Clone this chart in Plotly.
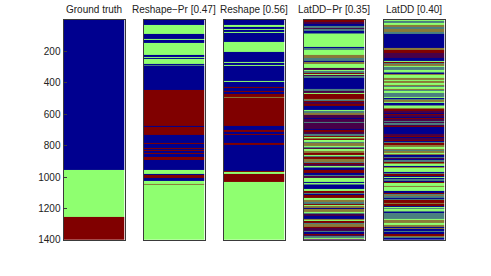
import plotly.graph_objects as go

N_FRAMES = 1400

titles = ["Ground truth", "Reshape\u2212Pr [0.47]", "Reshape [0.56]",
          "LatDD\u2212Pr [0.35]", "LatDD [0.40]"]

y_ticks = [200, 400, 600, 800, 1000, 1200, 1400]

# stripe codes -> colour as seen in the picture
# B blue, G green, R red; T/P/O/W are thin mixed stripes (blue+green, blue+red, red+green, light)
code_order = ["B", "G", "R", "T", "P", "O", "W"]
code_colors = ["#00008F", "#8FFF70", "#800000", "#4A8080", "#480048", "#8A7A38", "#E6FFD8"]

# (start frame, stripe code) runs for each panel
ground_truth_runs = [(0, "B"), (955, "G"), (1252, "R")]

reshape_pr_runs = [
    (0, "B"), (31, "G"), (90, "B"), (122, "G"), (126, "B"), (144, "G"), (223, "B"), (235, "G"),
    (240, "B"), (248, "G"), (277, "B"), (285, "T"), (290, "B"), (425, "R"), (429, "B"), (445, "R"),
    (677, "B"), (681, "R"), (731, "B"), (781, "R"), (792, "B"), (800, "R"), (805, "B"), (812, "R"),
    (818, "B"), (830, "R"), (836, "B"), (845, "R"), (850, "B"), (875, "R"), (890, "B"), (896, "R"),
    (900, "B"), (953, "G"), (982, "B"), (986, "R"), (1006, "B"), (1022, "G"), (1044, "O"), (1048, "G"),
]

reshape_runs = [
    (0, "B"), (33, "G"), (44, "B"), (58, "G"), (64, "B"), (75, "G"), (84, "B"), (140, "G"),
    (202, "B"), (266, "G"), (272, "B"), (286, "G"), (292, "B"), (390, "G"), (396, "B"), (428, "R"),
    (433, "B"), (455, "R"), (460, "B"), (468, "R"), (492, "O"), (497, "R"), (520, "B"), (525, "R"),
    (677, "B"), (698, "R"), (715, "B"), (723, "R"), (729, "B"), (781, "R"), (795, "B"), (958, "R"),
    (966, "G"), (983, "R"), (1033, "G"),
]

latdd_pr_runs = [
    (0, "R"), (12, "P"), (25, "B"), (37, "T"), (50, "P"), (58, "T"), (71, "B"), (83, "T"),
    (92, "G"), (175, "B"), (181, "T"), (191, "G"), (208, "B"), (212, "G"), (225, "O"), (241, "G"),
    (245, "T"), (262, "B"), (270, "O"), (279, "G"), (304, "P"), (316, "B"), (320, "G"), (324, "T"),
    (337, "R"), (345, "G"), (349, "P"), (354, "T"), (366, "G"), (370, "B"), (437, "G"), (441, "T"),
    (449, "P"), (466, "G"), (474, "R"), (503, "O"), (508, "T"), (516, "R"), (520, "P"), (537, "R"),
    (549, "B"), (574, "G"), (582, "T"), (591, "O"), (607, "P"), (624, "B"), (628, "P"), (649, "T"),
    (657, "P"), (695, "B"), (703, "R"), (711, "P"), (728, "T"), (736, "R"), (745, "G"), (749, "O"),
    (757, "R"), (765, "G"), (774, "T"), (782, "O"), (799, "G"), (807, "T"), (815, "P"), (824, "G"),
    (832, "O"), (849, "R"), (857, "G"), (865, "T"), (874, "R"), (882, "O"), (903, "T"), (911, "R"),
    (919, "P"), (928, "G"), (936, "T"), (944, "B"), (957, "R"), (973, "B"), (986, "T"), (994, "P"),
    (1007, "G"), (1032, "B"), (1036, "W"), (1040, "G"), (1044, "T"), (1052, "B"), (1077, "G"),
    (1090, "R"), (1098, "T"), (1107, "B"), (1115, "R"), (1136, "G"), (1144, "O"), (1161, "T"),
    (1169, "R"), (1177, "G"), (1186, "O"), (1198, "B"), (1206, "O"), (1219, "G"), (1227, "T"),
    (1236, "P"), (1248, "B"), (1265, "O"), (1273, "G"), (1281, "R"), (1290, "T"), (1298, "O"),
    (1315, "R"), (1327, "P"), (1340, "T"), (1348, "B"), (1360, "R"), (1369, "P"), (1377, "T"),
    (1385, "G"), (1394, "P"),
]

latdd_runs = [
    (0, "G"), (8, "T"), (21, "G"), (29, "O"), (42, "T"), (58, "O"), (79, "T"), (87, "B"),
    (179, "O"), (191, "R"), (212, "P"), (241, "B"), (258, "G"), (266, "R"), (275, "T"), (283, "O"),
    (291, "G"), (300, "T"), (316, "R"), (320, "G"), (329, "T"), (337, "B"), (341, "O"), (349, "G"),
    (366, "O"), (383, "G"), (391, "O"), (399, "T"), (404, "G"), (412, "O"), (420, "T"), (428, "G"),
    (437, "O"), (445, "T"), (453, "G"), (462, "T"), (487, "G"), (495, "B"), (503, "T"), (512, "O"),
    (520, "G"), (528, "B"), (541, "T"), (549, "G"), (557, "O"), (566, "R"), (578, "P"), (591, "B"),
    (599, "R"), (607, "P"), (616, "B"), (624, "R"), (632, "P"), (641, "T"), (649, "P"), (657, "T"),
    (666, "P"), (674, "R"), (682, "B"), (728, "P"), (736, "R"), (745, "B"), (753, "P"), (761, "R"),
    (770, "B"), (778, "T"), (786, "R"), (795, "O"), (811, "G"), (820, "O"), (828, "T"), (836, "O"),
    (845, "G"), (853, "O"), (861, "B"), (869, "T"), (878, "P"), (886, "B"), (894, "T"), (903, "R"),
    (911, "O"), (919, "G"), (928, "B"), (936, "O"), (944, "G"), (965, "B"), (973, "T"), (982, "R"),
    (990, "B"), (998, "G"), (1007, "B"), (1015, "T"), (1023, "B"), (1032, "R"), (1040, "G"),
    (1057, "O"), (1065, "G"), (1090, "B"), (1098, "R"), (1107, "T"), (1115, "O"), (1123, "T"),
    (1132, "B"), (1140, "T"), (1144, "R"), (1165, "O"), (1173, "R"), (1181, "B"), (1190, "G"),
    (1198, "T"), (1206, "G"), (1215, "T"), (1223, "B"), (1231, "T"), (1265, "G"), (1273, "O"),
    (1294, "G"), (1302, "O"), (1315, "B"), (1323, "O"), (1331, "B"), (1340, "T"), (1348, "B"),
    (1365, "R"), (1373, "O"), (1381, "T"), (1390, "B"), (1398, "G"),
]

panels = [ground_truth_runs, reshape_pr_runs, reshape_runs, latdd_pr_runs, latdd_runs]

# discrete colour scale
n = len(code_colors)
colorscale = []
for i, c in enumerate(code_colors):
    colorscale.append([i / n, c])
    colorscale.append([(i + 1) / n, c])

W, H = 491, 276
left0, pw, step = 63.5, 61.0, 80.0
top_px, bot_px = 20.3, 244.3

fig = go.Figure()
for k, runs in enumerate(panels):
    starts = [s for s, _ in runs]
    edges = starts + [N_FRAMES]
    z = [[code_order.index(c)] for _, c in runs]
    xa = "x" if k == 0 else f"x{k+1}"
    ya = "y" if k == 0 else f"y{k+1}"
    fig.add_trace(go.Heatmap(
        z=z, x=[0, 1], y=edges, xaxis=xa, yaxis=ya,
        colorscale=colorscale, zmin=-0.5, zmax=n - 0.5, showscale=False,
        hoverinfo="skip", zsmooth=False,
    ))
    x0 = (left0 + step * k) / W
    x1 = (left0 + step * k + pw) / W
    xkey = "xaxis" if k == 0 else f"xaxis{k+1}"
    ykey = "yaxis" if k == 0 else f"yaxis{k+1}"
    fig.layout[xkey] = dict(domain=[x0, x1], range=[0, 1], showticklabels=False, ticks="",
                            showgrid=False, zeroline=False, showline=True, mirror=True,
                            linecolor="#3a3a3a", linewidth=1, anchor=ya)
    ydict = dict(domain=[1 - bot_px / H, 1 - top_px / H], range=[N_FRAMES, 0],
                 showgrid=False, zeroline=False, showline=True, mirror=True,
                 linecolor="#3a3a3a", linewidth=1, anchor=xa)
    if k == 0:
        ydict.update(tickvals=y_ticks, ticks="inside", ticklen=3, tickcolor="#3a3a3a",
                     tickfont=dict(family="Liberation Sans, Arial, sans-serif", size=10, color="#222"))
    else:
        ydict.update(showticklabels=False, ticks="")
    fig.layout[ykey] = ydict
    fig.add_annotation(text=titles[k], x=(x0 + x1) / 2, xref="paper", y=1 - 17 / H, yref="paper",
                       xanchor="center", yanchor="bottom", showarrow=False,
                       font=dict(family="Liberation Sans, Arial, sans-serif", size=10, color="#222"))

fig.update_layout(width=W, height=H, margin=dict(l=0, r=0, t=0, b=0),
                  paper_bgcolor="white", plot_bgcolor="white", showlegend=False)
fig.write_html("out.html", config={"displayModeBar": False, "staticPlot": True},
               post_script="document.body.style.margin='0';document.body.style.overflow='hidden';")
